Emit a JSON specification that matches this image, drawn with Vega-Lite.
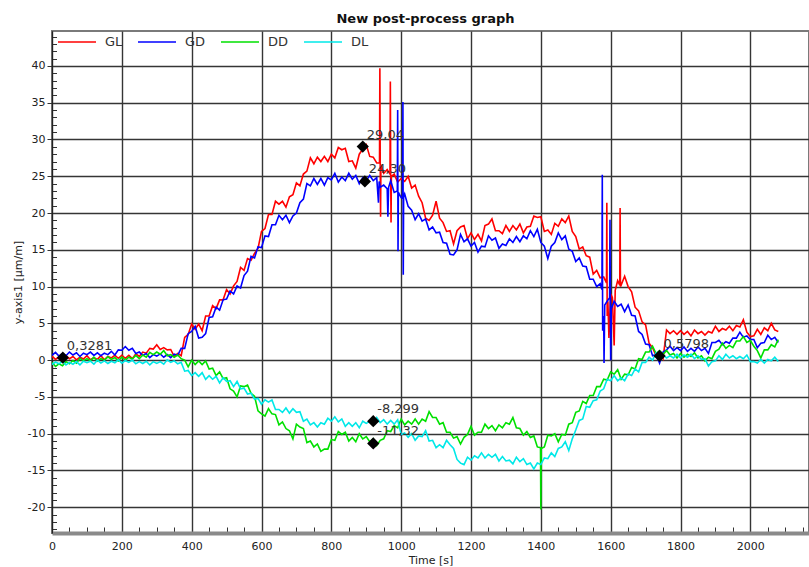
{
"$schema": "https://vega.github.io/schema/vega-lite/v6.json",
"width": 757, "height": 502,
"autosize": {"type": "none"},
"padding": {"left": 52, "top": 31, "right": 0, "bottom": 34},
"background": "white",
"title": {"text": "New post-process graph", "font": "DejaVu Sans", "fontSize": 13, "fontWeight": "bold", "color": "#111", "anchor": "middle", "dx": -5, "offset": -4},
"config": {"view": {"stroke": "#7a7a7a", "strokeWidth": 2}, "font": "DejaVu Sans"},
"datasets": {
"main": [
{"t":0,"GL":0.55,"GD":0.65,"DD":-0.3,"DL":-0.6},
{"t":10,"GL":0.1,"GD":1.05,"DD":-0.85,"DL":-0.25},
{"t":20,"GL":0.45,"GD":0.55,"DD":-0.5,"DL":-0.5},
{"t":30,"GL":0,"GD":0.9,"DD":-0.75,"DL":-0.15},
{"t":40,"GL":0.6,"GD":0.6,"DD":-0.2,"DL":-0.65},
{"t":50,"GL":0.2,"GD":1.1,"DD":-0.5,"DL":-0.3},
{"t":60,"GL":0.5,"GD":0.7,"DD":-0.05,"DL":-0.55},
{"t":70,"GL":0.05,"GD":1.0,"DD":-0.4,"DL":-0.2},
{"t":80,"GL":0.4,"GD":0.5,"DD":0.25,"DL":-0.65},
{"t":90,"GL":0.15,"GD":0.95,"DD":-0.1,"DL":-0.15},
{"t":100,"GL":0.6,"GD":0.75,"DD":0.2,"DL":-0.35},
{"t":110,"GL":0.05,"GD":1.1,"DD":-0.1,"DL":-0.15},
{"t":120,"GL":0.35,"GD":0.65,"DD":0.4,"DL":-0.55},
{"t":130,"GL":0.1,"GD":1.0,"DD":-0.15,"DL":0},
{"t":140,"GL":0.6,"GD":0.6,"DD":0.2,"DL":-0.4},
{"t":150,"GL":0.05,"GD":0.95,"DD":0,"DL":-0.1},
{"t":160,"GL":0.5,"GD":0.75,"DD":0.45,"DL":-0.45},
{"t":170,"GL":0.3,"GD":1.2,"DD":0.1,"DL":-0.15},
{"t":180,"GL":0.65,"GD":0.7,"DD":0.35,"DL":-0.35},
{"t":190,"GL":0.25,"GD":1.4,"DD":-0.1,"DL":0.05},
{"t":200,"GL":0.65,"GD":1.35,"DD":0.4,"DL":-0.4},
{"t":210,"GL":0.25,"GD":1.85,"DD":0,"DL":-0.05},
{"t":220,"GL":0.65,"GD":1.35,"DD":0.4,"DL":-0.3},
{"t":230,"GL":0.2,"GD":1.6,"DD":0.15,"DL":0},
{"t":240,"GL":0.85,"GD":0.9,"DD":0.65,"DL":-0.5},
{"t":250,"GL":0.5,"GD":1.1,"DD":0.2,"DL":-0.2},
{"t":260,"GL":1.1,"GD":0.65,"DD":0.7,"DL":-0.45},
{"t":270,"GL":0.95,"GD":0.9,"DD":0.4,"DL":-0.15},
{"t":280,"GL":1.6,"GD":0.35,"DD":1.05,"DL":-0.65},
{"t":290,"GL":1.5,"GD":0.75,"DD":0.75,"DL":-0.2},
{"t":300,"GL":2.1,"GD":0.55,"DD":1.1,"DL":-0.45},
{"t":310,"GL":1.45,"GD":0.85,"DD":0.8,"DL":-0.2},
{"t":320,"GL":1.7,"GD":0.4,"DD":1.3,"DL":-0.55},
{"t":330,"GL":1.4,"GD":0.75,"DD":0.6,"DL":0.05},
{"t":340,"GL":1.45,"GD":0.35,"DD":0.75,"DL":-0.3},
{"t":350,"GL":0.5,"GD":0.8,"DD":0.4,"DL":-0.1},
{"t":360,"GL":0.9,"GD":0.65,"DD":0.7,"DL":-0.5},
{"t":370,"GL":0.6,"GD":1.6,"DD":0.2,"DL":-0.3},
{"t":380,"GL":3.1,"GD":1.6,"DD":0,"DL":-1.5},
{"t":390,"GL":3.5,"GD":3.6,"DD":-0.9,"DL":-1.4},
{"t":400,"GL":4.9,"GD":3.9,"DD":0,"DL":-2.1},
{"t":410,"GL":4.2,"GD":4.6,"DD":-0.6,"DL":-1.7},
{"t":420,"GL":4.9,"GD":3.0,"DD":-0.1,"DL":-2.2},
{"t":430,"GL":4.0,"GD":3.1,"DD":-0.6,"DL":-1.7},
{"t":440,"GL":6.0,"GD":3.6,"DD":-0.1,"DL":-2.6},
{"t":450,"GL":6.0,"GD":5.8,"DD":-1.2,"DL":-2.1},
{"t":460,"GL":7.4,"GD":5.9,"DD":-1.1,"DL":-2.6},
{"t":470,"GL":7.0,"GD":7.2,"DD":-2.1,"DL":-2.2},
{"t":480,"GL":8.2,"GD":6.8,"DD":-1.6,"DL":-3.1},
{"t":490,"GL":8.2,"GD":8.2,"DD":-2.5,"DL":-2.4},
{"t":500,"GL":9.6,"GD":8.3,"DD":-2.4,"DL":-2.9},
{"t":510,"GL":9.0,"GD":9.4,"DD":-3.9,"DL":-2.8},
{"t":520,"GL":10.1,"GD":9.0,"DD":-4.2,"DL":-3.6},
{"t":530,"GL":10.7,"GD":10.1,"DD":-5.0,"DL":-2.9},
{"t":540,"GL":12.6,"GD":9.8,"DD":-3.5,"DL":-3.9},
{"t":550,"GL":12.2,"GD":11.5,"DD":-3.6,"DL":-3.8},
{"t":560,"GL":13.8,"GD":12.1,"DD":-3.4,"DL":-4.6},
{"t":570,"GL":13.6,"GD":14.1,"DD":-4.5,"DL":-4.5},
{"t":580,"GL":14.5,"GD":13.9,"DD":-4.9,"DL":-5.3},
{"t":590,"GL":15.2,"GD":15.4,"DD":-6.9,"DL":-5.2},
{"t":600,"GL":17.5,"GD":15.3,"DD":-7.3,"DL":-6.0},
{"t":610,"GL":17.9,"GD":16.9,"DD":-7.6,"DL":-5.4},
{"t":620,"GL":19.8,"GD":16.8,"DD":-6.6,"DL":-5.7},
{"t":630,"GL":19.8,"GD":18.4,"DD":-7.3,"DL":-5.4},
{"t":640,"GL":21.6,"GD":18.4,"DD":-7.4,"DL":-6.7},
{"t":650,"GL":21.2,"GD":19.7,"DD":-8.8,"DL":-6.7},
{"t":660,"GL":21.6,"GD":19.1,"DD":-8.4,"DL":-7.1},
{"t":670,"GL":20.8,"GD":19.7,"DD":-9.3,"DL":-6.5},
{"t":680,"GL":22.2,"GD":18.7,"DD":-9.6,"DL":-7.2},
{"t":690,"GL":22.5,"GD":19.6,"DD":-10.7,"DL":-6.6},
{"t":700,"GL":24.1,"GD":20.0,"DD":-8.7,"DL":-7.1},
{"t":710,"GL":23.7,"GD":21.4,"DD":-9.1,"DL":-7.0},
{"t":720,"GL":25.3,"GD":21.9,"DD":-9.3,"DL":-8.3},
{"t":730,"GL":25.7,"GD":24.0,"DD":-11.2,"DL":-8.0},
{"t":740,"GL":27.5,"GD":23.7,"DD":-11.0,"DL":-8.8},
{"t":750,"GL":26.7,"GD":24.7,"DD":-11.8,"DL":-8.5},
{"t":760,"GL":27.6,"GD":23.9,"DD":-11.4,"DL":-9.1},
{"t":770,"GL":27.0,"GD":24.7,"DD":-12.4,"DL":-8.5},
{"t":780,"GL":27.7,"GD":23.8,"DD":-12.1,"DL":-8.7},
{"t":790,"GL":27.0,"GD":24.8,"DD":-12.1,"DL":-7.9},
{"t":800,"GL":28.0,"GD":24.5,"DD":-10.8,"DL":-8.3},
{"t":810,"GL":27.5,"GD":25.4,"DD":-10.9,"DL":-7.7},
{"t":820,"GL":28.9,"GD":24.2,"DD":-9.7,"DL":-8.4},
{"t":830,"GL":28.6,"GD":24.9,"DD":-10.1,"DL":-8.0},
{"t":840,"GL":28.8,"GD":24.4,"DD":-9.8,"DL":-9.0},
{"t":850,"GL":27.0,"GD":25.4,"DD":-11.0,"DL":-8.5},
{"t":860,"GL":27.1,"GD":24.6,"DD":-10.5,"DL":-9.0},
{"t":870,"GL":26.1,"GD":25.1,"DD":-11.1,"DL":-8.5},
{"t":880,"GL":28.0,"GD":24.0,"DD":-10.0,"DL":-9.2},
{"t":890,"GL":28.7,"GD":24.8,"DD":-10.7,"DL":-8.3},
{"t":900,"GL":29.3,"GD":24.4,"DD":-10.4,"DL":-8.6},
{"t":910,"GL":27.7,"GD":25.1,"DD":-11.1,"DL":-8.3},
{"t":920,"GL":27.6,"GD":24.4,"DD":-10.7,"DL":-8.7},
{"t":930,"GL":26.8,"GD":24.8,"DD":-11.6,"DL":-7.8},
{"t":935,"GD":21.4},
{"t":937,"GD":24.3},
{"t":938,"GL":26.8},
{"t":939,"GL":39.7},
{"t":940,"GL":27.0,"GD":23.5,"DD":-10.9,"DL":-8.5},
{"t":941,"GL":19.5},
{"t":942,"GL":26.5},
{"t":950,"GL":25.4,"GD":23.8,"DD":-10.7,"DL":-8.1},
{"t":960,"GL":25.9,"GD":23.3,"DD":-9.6,"DL":-8.7},
{"t":962,"GD":19.5},
{"t":964,"GD":23.5},
{"t":968,"GL":25.3},
{"t":969,"GL":37.9},
{"t":970,"GL":25.0,"GD":24.4,"DD":-9.7,"DL":-8.2},
{"t":971,"GL":18.7},
{"t":972,"GL":25.0},
{"t":980,"GL":25.3,"GD":22.8,"DD":-8.9,"DL":-8.7},
{"t":989,"GD":23.0},
{"t":990,"GL":24.2,"GD":34.0,"DD":-9.2,"DL":-8.1},
{"t":991,"GD":14.8},
{"t":992,"GD":22.8},
{"t":1000,"GL":24.7,"GD":22.1,"DD":-8.0,"DL":-10.1},
{"t":1004,"GD":22.0},
{"t":1005,"GD":35.1},
{"t":1006,"GD":11.6},
{"t":1007,"GD":22.2},
{"t":1010,"GL":24.3,"GD":22.6,"DD":-8.8,"DL":-9.9},
{"t":1020,"GL":25.0,"GD":20.9,"DD":-8.3,"DL":-10.5},
{"t":1030,"GL":23.4,"GD":20.4,"DD":-8.7,"DL":-10.0},
{"t":1040,"GL":23.8,"GD":19.1,"DD":-8.0,"DL":-10.9},
{"t":1050,"GL":22.3,"GD":19.9,"DD":-8.7,"DL":-10.3},
{"t":1060,"GL":21.4,"GD":18.9,"DD":-8.0,"DL":-10.4},
{"t":1070,"GL":19.3,"GD":19.2,"DD":-8.3,"DL":-9.6},
{"t":1080,"GL":19.0,"GD":17.7,"DD":-7.0,"DL":-11.0},
{"t":1090,"GL":19.7,"GD":18.1,"DD":-7.8,"DL":-10.9},
{"t":1100,"GL":21.6,"GD":17.3,"DD":-7.8,"DL":-11.9},
{"t":1110,"GL":19.3,"GD":17.4,"DD":-8.7,"DL":-11.5},
{"t":1120,"GL":18.7,"GD":16.0,"DD":-8.5,"DL":-11.9},
{"t":1130,"GL":17.5,"GD":15.9,"DD":-9.8,"DL":-10.9},
{"t":1140,"GL":17.6,"GD":14.4,"DD":-9.8,"DL":-11.5},
{"t":1150,"GL":15.8,"GD":14.3,"DD":-10.6,"DL":-12.0},
{"t":1160,"GL":17.6,"GD":15.0,"DD":-10.4,"DL":-13.5},
{"t":1170,"GL":18.1,"GD":17.1,"DD":-11.4,"DL":-14.0},
{"t":1180,"GL":18.3,"GD":16.1,"DD":-10.5,"DL":-14.2},
{"t":1190,"GL":16.5,"GD":16.5,"DD":-10.1,"DL":-13.2},
{"t":1200,"GL":17.3,"GD":15.5,"DD":-9.0,"DL":-13.6},
{"t":1210,"GL":16.4,"GD":16.0,"DD":-10.2,"DL":-13.0},
{"t":1220,"GL":17.1,"GD":14.7,"DD":-9.8,"DL":-13.3},
{"t":1230,"GL":16.2,"GD":15.5,"DD":-9.8,"DL":-12.6},
{"t":1240,"GL":18.3,"GD":15.4,"DD":-8.7,"DL":-13.3},
{"t":1250,"GL":18.5,"GD":16.9,"DD":-9.3,"DL":-12.8},
{"t":1260,"GL":19.2,"GD":16.3,"DD":-8.9,"DL":-13.2},
{"t":1270,"GL":17.6,"GD":16.6,"DD":-9.6,"DL":-12.8},
{"t":1280,"GL":17.6,"GD":15.2,"DD":-8.8,"DL":-13.7},
{"t":1290,"GL":17.2,"GD":15.8,"DD":-9.2,"DL":-13.1},
{"t":1300,"GL":18.3,"GD":15.6,"DD":-8.5,"DL":-13.7},
{"t":1310,"GL":17.5,"GD":16.5,"DD":-8.7,"DL":-13.6},
{"t":1320,"GL":18.3,"GD":16.0,"DD":-7.8,"DL":-14.1},
{"t":1330,"GL":17.7,"GD":16.8,"DD":-9.2,"DL":-13.2},
{"t":1340,"GL":18.5,"GD":16.1,"DD":-9.3,"DL":-13.8},
{"t":1350,"GL":17.3,"GD":16.9,"DD":-10.2,"DL":-13.4},
{"t":1360,"GL":18.1,"GD":16.5,"DD":-9.7,"DL":-14.2},
{"t":1370,"GL":18.2,"GD":17.6,"DD":-10.5,"DL":-14.0},
{"t":1380,"GL":19.6,"GD":16.8,"DD":-10.3,"DL":-14.8},
{"t":1390,"GL":19.4,"GD":17.8,"DD":-11.8,"DL":-14.0},
{"t":1399,"DD":-11.9},
{"t":1400,"GL":19.5,"GD":16.0,"DD":-20.3,"DL":-14.2},
{"t":1401,"DD":-12.0},
{"t":1410,"GL":17.5,"GD":15.5,"DD":-11.8,"DL":-13.3},
{"t":1420,"GL":17.7,"GD":13.8,"DD":-10.2,"DL":-13.4},
{"t":1430,"GL":17.1,"GD":15.5,"DD":-10.3,"DL":-12.6},
{"t":1440,"GL":18.6,"GD":16.0,"DD":-10.0,"DL":-13.1},
{"t":1450,"GL":18.2,"GD":17.3,"DD":-11.1,"DL":-12.0},
{"t":1460,"GL":19.2,"GD":16.4,"DD":-10.1,"DL":-11.8},
{"t":1470,"GL":18.7,"GD":16.9,"DD":-10.2,"DL":-11.1},
{"t":1480,"GL":19.6,"GD":15.1,"DD":-8.7,"DL":-12.3},
{"t":1490,"GL":17.5,"GD":14.8,"DD":-8.5,"DL":-10.7},
{"t":1500,"GL":16.8,"GD":13.4,"DD":-7.1,"DL":-9.5},
{"t":1510,"GL":15.1,"GD":13.9,"DD":-6.9,"DL":-8.2},
{"t":1520,"GL":15.4,"GD":12.8,"DD":-5.6,"DL":-8.0},
{"t":1530,"GL":14.2,"GD":12.7,"DD":-5.9,"DL":-6.3},
{"t":1540,"GL":14.0,"GD":11.0,"DD":-4.8,"DL":-6.4},
{"t":1550,"GL":11.7,"GD":11.0,"DD":-4.8,"DL":-5.5},
{"t":1560,"GL":12.2,"GD":10.0,"DD":-3.6,"DL":-5.4},
{"t":1570,"GL":11.2,"GD":10.4,"DD":-3.6,"DL":-4.2},
{"t":1575,"GD":9.6},
{"t":1576,"GD":25.2},
{"t":1577,"GD":4.0},
{"t":1580,"GL":11.3,"GD":6.0,"DD":-2.6,"DL":-3.9},
{"t":1581,"GD":-0.4},
{"t":1583,"GD":7.5},
{"t":1588,"GL":10.5},
{"t":1589,"GL":21.4},
{"t":1590,"GL":6.0,"GD":8.0,"DD":-2.7,"DL":-2.6},
{"t":1592,"GL":8.0},
{"t":1595,"GL":3.0},
{"t":1597,"GD":8.5},
{"t":1598,"GD":19.1},
{"t":1599,"GD":8.0},
{"t":1600,"GL":9.0,"GD":0.0,"DD":-1.6,"DL":-2.8},
{"t":1602,"GD":7.0},
{"t":1605,"GL":8.5},
{"t":1610,"GL":2.0,"GD":8.0,"DD":-1.9,"DL":-2.1},
{"t":1613,"GL":9.5},
{"t":1620,"GL":10.8,"GD":7.3,"DD":-1.3,"DL":-2.8},
{"t":1626,"GL":10.2},
{"t":1627,"GL":20.7},
{"t":1628,"GL":10.0},
{"t":1630,"GL":10.2,"GD":7.6,"DD":-2.6,"DL":-2.4},
{"t":1640,"GL":11.4,"GD":6.6,"DD":-1.9,"DL":-2.8},
{"t":1650,"GL":10.0,"GD":7.5,"DD":-2.0,"DL":-1.9},
{"t":1660,"GL":9.3,"GD":6.1,"DD":-1.0,"DL":-2.1},
{"t":1670,"GL":7.2,"GD":6.0,"DD":-1.2,"DL":-1.2},
{"t":1680,"GL":6.7,"GD":3.9,"DD":0.2,"DL":-1.6},
{"t":1690,"GL":5.2,"GD":3.5,"DD":0.1,"DL":-0.3},
{"t":1700,"GL":4.8,"GD":2.2,"DD":1.1,"DL":-0.3},
{"t":1710,"GL":2.3,"GD":2.1,"DD":1.1,"DL":0.4},
{"t":1720,"GL":1.7,"GD":0.6,"DD":1.9,"DL":0.0},
{"t":1730,"GL":0.6,"GD":0.8,"DD":0.9,"DL":1.0},
{"t":1740,"GL":1.1,"GD":-0.4,"DD":1.3,"DL":0.3},
{"t":1750,"GL":0.2,"GD":1.1,"DD":0.8,"DL":0.7},
{"t":1760,"GL":4.1,"GD":1.4,"DD":1.3,"DL":0.3},
{"t":1770,"GL":3.6,"GD":1.9,"DD":0.7,"DL":0.6},
{"t":1780,"GL":4.0,"GD":1.3,"DD":0.9,"DL":0.3},
{"t":1790,"GL":3.5,"GD":1.7,"DD":0.3,"DL":0.8},
{"t":1800,"GL":4.0,"GD":1.3,"DD":0.9,"DL":0.3},
{"t":1810,"GL":3.5,"GD":1.8,"DD":0.4,"DL":0.7},
{"t":1820,"GL":3.9,"GD":1.2,"DD":0.8,"DL":0.4},
{"t":1830,"GL":3.3,"GD":1.6,"DD":0.5,"DL":0.8},
{"t":1840,"GL":4.1,"GD":1.2,"DD":1.0,"DL":0.2},
{"t":1850,"GL":3.6,"GD":1.8,"DD":0.3,"DL":0.6},
{"t":1860,"GL":3.9,"GD":1.3,"DD":0.6,"DL":0.1},
{"t":1870,"GL":3.4,"GD":1.6,"DD":-0.1,"DL":0.2},
{"t":1880,"GL":3.9,"GD":0.9,"DD":0.4,"DL":-0.8},
{"t":1890,"GL":3.7,"GD":2.4,"DD":0.2,"DL":-0.2},
{"t":1900,"GL":4.6,"GD":2.4,"DD":1.2,"DL":-0.1},
{"t":1910,"GL":3.9,"GD":2.7,"DD":1.5,"DL":0.6},
{"t":1920,"GL":4.3,"GD":2.1,"DD":2.3,"DL":0.1},
{"t":1930,"GL":4.1,"GD":2.5,"DD":1.6,"DL":0.8},
{"t":1940,"GL":4.6,"GD":2.3,"DD":2.0,"DL":0.3},
{"t":1950,"GL":4.0,"GD":3.0,"DD":1.7,"DL":0.6},
{"t":1960,"GL":4.7,"GD":3.0,"DD":2.6,"DL":0.2},
{"t":1970,"GL":4.5,"GD":3.8,"DD":2.6,"DL":0.5},
{"t":1980,"GL":5.5,"GD":3.1,"DD":3.2,"DL":0.2},
{"t":1990,"GL":3.8,"GD":3.3,"DD":2.4,"DL":0.7},
{"t":2000,"GL":3.2,"GD":2.8,"DD":2.7,"DL":-0.2},
{"t":2010,"GL":3.3,"GD":2.8,"DD":1.9,"DL":-0.2},
{"t":2020,"GL":4.2,"GD":1.7,"DD":1.3,"DL":-0.4},
{"t":2030,"GL":3.5,"GD":2.3,"DD":0.3,"DL":0.1},
{"t":2040,"GL":4.4,"GD":2.4,"DD":1.4,"DL":-0.4},
{"t":2050,"GL":4.0,"GD":3.4,"DD":1.4,"DL":0.1},
{"t":2060,"GL":5.0,"GD":2.8,"DD":2.1,"DL":-0.1},
{"t":2070,"GL":4.1,"GD":3.1,"DD":1.8,"DL":0.4},
{"t":2080,"GL":3.9,"GD":2.4,"DD":2.8,"DL":-0.2}
],
"marks": [
{"t":31,"value":0.3281,"label":"0,3281"},
{"t":890,"value":29.04,"label":"29,04"},
{"t":896,"value":24.30,"label":"24,30"},
{"t":920,"value":-8.299,"label":"-8,299"},
{"t":920,"value":-11.32,"label":"-11,32"},
{"t":1740,"value":0.5798,"label":"0,5798"}
]
},
"encoding": {
"x": {"field": "t", "type": "quantitative",
"scale": {"domain": [0, 2168], "nice": false, "zero": false},
"axis": {"title": "Time [s]", "titleFont": "DejaVu Sans", "titleFontSize": 11, "titleFontWeight": "normal", "titleColor": "#222", "titlePadding": 3,
"values": [0,50,100,150,200,250,300,350,400,450,500,550,600,650,700,750,800,850,900,950,1000,1050,1100,1150,1200,1250,1300,1350,1400,1450,1500,1550,1600,1650,1700,1750,1800,1850,1900,1950,2000,2050,2100,2150],
"labelExpr": "datum.value % 200 === 0 ? '' + datum.value : ''",
"labelFont": "DejaVu Sans", "labelFontSize": 11, "labelColor": "#222", "labelFlush": false, "labelOverlap": false, "labelPadding": 7,
"grid": true, "gridColor": {"condition": {"test": "datum.value % 200 === 0", "value": "#353535"}, "value": "transparent"}, "gridWidth": 1.4,
"tickSize": {"condition": {"test": "datum.value % 200 === 0", "value": 0}, "value": -6}, "tickColor": "#333", "tickWidth": 1,
"domain": true, "domainColor": "#8a8a8a", "domainWidth": 4}},
"y": {"field": "value", "type": "quantitative",
"scale": {"domain": [-23.5, 44.75], "nice": false, "zero": false},
"axis": {"title": "y-axis1 [µm/m]", "titleFont": "DejaVu Sans", "titleFontSize": 11, "titleFontWeight": "normal", "titleColor": "#222", "titlePadding": 4,
"values": [-23,-22,-21,-20,-19,-18,-17,-16,-15,-14,-13,-12,-11,-10,-9,-8,-7,-6,-5,-4,-3,-2,-1,0,1,2,3,4,5,6,7,8,9,10,11,12,13,14,15,16,17,18,19,20,21,22,23,24,25,26,27,28,29,30,31,32,33,34,35,36,37,38,39,40,41,42,43,44],
"labelExpr": "datum.value % 5 === 0 ? '' + datum.value : ''",
"labelFont": "DejaVu Sans", "labelFontSize": 11, "labelColor": "#222", "labelFlush": false, "labelOverlap": false, "labelPadding": 2,
"grid": true, "gridColor": {"condition": {"test": "datum.value % 5 === 0", "value": "#353535"}, "value": "transparent"}, "gridWidth": 1.4,
"tickSize": {"condition": {"test": "datum.value % 5 === 0", "value": 5}, "value": -4.5}, "tickColor": "#333", "tickWidth": 1,
"domain": true, "domainColor": "#222", "domainWidth": 1}}
},
"layer": [
{
"data": {"name": "main"},
"transform": [
{"fold": ["GL", "GD", "DD", "DL"], "as": ["series", "value"]},
{"filter": "isValid(datum.value)"}
],
"mark": {"type": "line", "strokeWidth": 1.6, "clip": true},
"encoding": {
"color": {"field": "series", "type": "nominal",
"scale": {"domain": ["GL", "GD", "DD", "DL"], "range": ["#ff0000", "#0000ff", "#00e000", "#00e8e8"]},
"legend": {"orient": "none", "legendX": 5, "legendY": -9, "direction": "horizontal", "title": null, "symbolType": "stroke", "symbolSize": 1444, "symbolStrokeWidth": 1.5, "labelFont": "DejaVu Sans", "labelFontSize": 13, "labelColor": "#333", "labelOffset": 8, "columnPadding": 12, "padding": 0}}
}
},
{
"data": {"name": "marks"},
"mark": {"type": "point", "shape": "diamond", "filled": true, "size": 150, "color": "black", "opacity": 1},
"encoding": {}
},
{
"data": {"name": "marks"},
"mark": {"type": "text", "align": "left", "baseline": "middle", "dx": 4, "dy": -12, "font": "DejaVu Sans", "fontSize": 13, "color": "#333"},
"encoding": {"text": {"field": "label"}}
}
]
}
